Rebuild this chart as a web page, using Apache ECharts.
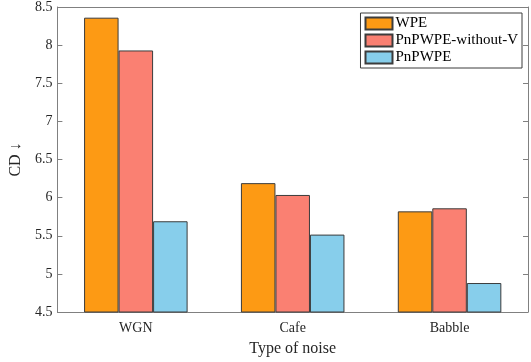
<!DOCTYPE html>
<html lang="en">
<head>
<meta charset="UTF-8">
<title>CD by noise type</title>
<script src="https://cdn.jsdelivr.net/npm/echarts@6/dist/echarts.min.js"></script>
</head>
<body style="margin:0">
<div id="chart" style="width:531px;height:362px"></div>
<script>
    // data
    let categories = ['WGN', 'Cafe', 'Babble'];
    let wpe = [8.36, 6.19, 5.82];
    let pnpwpeNoV = [7.93, 6.035, 5.86];
    let pnpwpe = [5.69, 5.515, 4.88];
    let seriesNames = ['WPE', 'PnPWPE-without-V', 'PnPWPE'];
    let colors = ['#FD9A14', '#FA8072', '#87CEEB'];

    let font = 'Liberation Serif';
    let axisCol = '#808080';
    let txtCol = '#262626';

    let myChart = echarts.init(document.getElementById('chart'));

    let lines = [];
    [wpe, pnpwpeNoV, pnpwpe].forEach(function (d, i) {
        lines.push({
            name: seriesNames[i],
            type: 'bar',
            data: d,
            barGap: 0,
            barCategoryGap: '34%',
            itemStyle: {color: colors[i], borderColor: '#3c3c3c', borderWidth: 1}
        });
    });

    let option = {
        animation: false,
        textStyle: {fontFamily: font},
        grid: {left: 42, right: 3, top: 6, bottom: 43},
        legend: {
            orient: 'vertical',
            right: 9, top: 13,
            icon: 'rect',
            itemWidth: 27, itemHeight: 12, itemGap: 2,
            padding: [3, 4, 3, 4],
            borderColor: '#3c3c3c', borderWidth: 1,
            textStyle: {fontFamily: font, fontSize: 15, color: '#000', padding: [0, 0, 0, -2]},
            data: seriesNames
        },
        xAxis: [{
            type: 'category',
            data: categories,
            name: 'Type of noise',
            nameLocation: 'middle',
            nameGap: 29,
            nameTextStyle: {fontFamily: font, fontSize: 16, color: txtCol},
            axisLine: {lineStyle: {color: axisCol}},
            axisTick: {inside: true, alignWithLabel: true, length: 5, lineStyle: {color: axisCol}},
            axisLabel: {fontFamily: font, fontSize: 14, color: txtCol, margin: 9}
        }, {
            type: 'category',
            data: categories,
            position: 'top',
            axisLine: {lineStyle: {color: axisCol}},
            axisTick: {inside: true, alignWithLabel: true, length: 5, lineStyle: {color: axisCol}},
            axisLabel: {show: false}
        }],
        yAxis: [{
            type: 'value',
            min: 4.5, max: 8.5, interval: 0.5,
            name: 'CD \u2193',
            nameLocation: 'middle',
            nameGap: 29,
            nameTextStyle: {fontFamily: font, fontSize: 16, color: txtCol},
            axisLine: {show: true, lineStyle: {color: axisCol}},
            axisTick: {show: true, inside: true, length: 5, lineStyle: {color: axisCol}},
            axisLabel: {fontFamily: font, fontSize: 14, color: txtCol, margin: 5},
            splitLine: {show: false}
        }, {
            type: 'value',
            min: 4.5, max: 8.5, interval: 0.5,
            position: 'right',
            axisLine: {show: true, lineStyle: {color: axisCol}},
            axisTick: {show: true, inside: true, length: 5, lineStyle: {color: axisCol}},
            axisLabel: {show: false},
            splitLine: {show: false}
        }],
        series: lines
    };
    myChart.setOption(option, true);
</script>
</body>
</html>
